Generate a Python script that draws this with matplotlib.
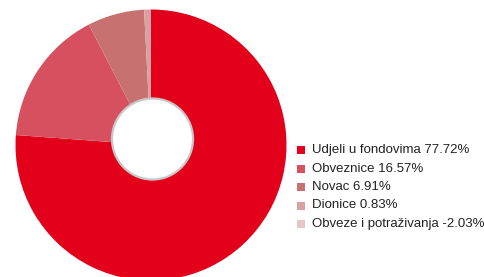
import numpy as np
import matplotlib.pyplot as plt
from matplotlib.patches import Circle, Rectangle

# data
labels = ["Udjeli u fondovima", "Obveznice", "Novac", "Dionice", "Obveze i potraživanja"]
shares = [77.72, 16.57, 6.91, 0.83, -2.03]
colors = ["#e3001b", "#d65060", "#c77170", "#d7a0a2", "#e8c6c8"]

plt.rcParams['font.family'] = ['Liberation Sans', 'DejaVu Sans']

W, H = 485, 277
fig = plt.figure(figsize=(W / 100, H / 100), dpi=100)
ax = fig.add_axes([0, 0, 1, 1])
ax.set_xlim(0, W)
ax.set_ylim(0, H)
ax.set_aspect("equal")
ax.axis("off")

# only positive shares get a wedge
pos = [(v, c) for v, c in zip(shares, colors) if v > 0]
ax.pie([v for v, _ in pos], colors=[c for _, c in pos],
       startangle=90, counterclock=False,
       center=(151, H - 145), radius=135.5,
       wedgeprops=dict(linewidth=0))
ax.set_xlim(0, W)
ax.set_ylim(0, H)

# hole
ax.add_patch(Circle((152.5, H - 139), 40.5, facecolor="white",
                    edgecolor="#c8c8c8", linewidth=1.6, zorder=5))

# legend
y0 = H - 150
for i, (lab, v, c) in enumerate(zip(labels, shares, colors)):
    y = y0 - i * 18.5
    ax.add_patch(Rectangle((297, y - 4), 8, 8, facecolor=c, edgecolor="none"))
    ax.text(312, y, f"{lab} {v:.2f}%", fontsize=9.5, va="center", ha="left",
            color="#222222")

fig.savefig("out.png", dpi=100)
